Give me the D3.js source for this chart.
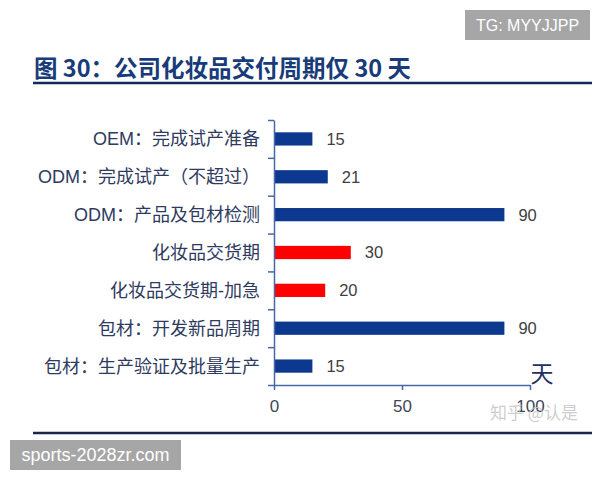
<!DOCTYPE html>
<html>
<head>
<meta charset="utf-8">
<script src="https://cdn.jsdelivr.net/npm/d3@7"></script>
<style>
  html, body { margin: 0; padding: 0; background: #ffffff; }
  svg { display: block; }
</style>
</head>
<body>
<svg id="chart" width="600" height="480"></svg>
<script>
// ---- data ----
const categories = [
  "OEM：完成试产准备",
  "ODM：完成试产（不超过）",
  "ODM：产品及包材检测",
  "化妆品交货期",
  "化妆品交货期-加急",
  "包材：开发新品周期",
  "包材：生产验证及批量生产"
];
const values = [15, 21, 90, 30, 20, 90, 15];
const highlight = [false, false, false, true, true, false, false];
const xTicks = [0, 50, 100];
const titleText = "图 30：公司化妆品交付周期仅 30 天";
const unitText = "天";

// ---- layout ----
const svg = d3.select("#chart");
const latin = "'Liberation Sans', Arial, 'Noto Sans CJK SC', sans-serif";
const plot = { left: 274, right: 530, top: 120, bottom: 385 };

const x = d3.scaleLinear().domain([0, 100]).range([plot.left, plot.right]);
const y = d3.scaleBand().domain(categories).range([plot.top, plot.bottom])
  .paddingInner(0.65).paddingOuter(0.325);
const yb = d3.scaleLinear().domain([0, categories.length]).range([plot.top, plot.bottom]);

// watermark box top-right
svg.append("rect").attr("x", 465).attr("y", 10).attr("width", 125).attr("height", 30).attr("fill", "#a6a6a6");
svg.append("text").attr("x", 527.5).attr("y", 25).attr("dy", "0.36em").attr("text-anchor", "middle")
  .attr("font-family", latin).attr("font-size", 16).attr("fill", "#ffffff").text("TG: MYYJJPP");

// title
svg.append("text").attr("x", 34).attr("y", 77)
  .attr("font-family", "'Noto Sans CJK SC', sans-serif").attr("font-weight", "bold")
  .attr("font-size", 23.5).attr("fill", "#183b7a").text(titleText);
svg.append("line").attr("x1", 33).attr("x2", 592).attr("y1", 83).attr("y2", 83)
  .attr("stroke", "#0f2b5e").attr("stroke-width", 2.5);

// bars
svg.append("g").selectAll("rect").data(categories).join("rect")
  .attr("x", x(0) + 1)
  .attr("y", d => y(d))
  .attr("width", (d, i) => x(values[i]) - x(0) - 1)
  .attr("height", y.bandwidth())
  .attr("fill", (d, i) => highlight[i] ? "#fe0000" : "#0c3890");

// value labels
svg.append("g").selectAll("text").data(categories).join("text")
  .attr("x", (d, i) => x(values[i]) + 14)
  .attr("y", d => y(d) + y.bandwidth() / 2)
  .attr("dy", "0.36em")
  .attr("font-family", latin).attr("font-size", 16.5).attr("fill", "#404040")
  .text((d, i) => values[i]);

// category labels
svg.append("g").selectAll("text").data(categories).join("text")
  .attr("x", 260)
  .attr("y", d => y(d) + y.bandwidth() / 2)
  .attr("dy", "0.36em")
  .attr("text-anchor", "end")
  .attr("font-family", latin).attr("font-size", 18).attr("fill", "#2e3a5e")
  .text(d => d);

// y axis (ticks at category boundaries)
const axisColor = "#4767a6";
const yAxis = svg.append("g").attr("transform", `translate(${plot.left},0)`)
  .call(d3.axisLeft(yb).tickValues(d3.range(categories.length + 1)).tickFormat("")
    .tickSizeInner(6).tickSizeOuter(0));
yAxis.selectAll("path, line").attr("stroke", axisColor).attr("stroke-width", 1.5);

// x axis
const xAxis = svg.append("g").attr("transform", `translate(0,${plot.bottom})`)
  .call(d3.axisBottom(x).tickValues(xTicks).tickSizeInner(5).tickSizeOuter(0).tickPadding(10));
xAxis.selectAll("path, line").attr("stroke", axisColor).attr("stroke-width", 1.5);
xAxis.selectAll("text").attr("font-family", latin).attr("font-size", 17).attr("fill", "#3f4656");

// unit label
svg.append("text").attr("x", 542).attr("y", 382).attr("text-anchor", "middle")
  .attr("font-family", "'Noto Sans CJK SC', sans-serif").attr("font-size", 23)
  .attr("fill", "#1f2f62").text(unitText);

// zhihu watermark
svg.append("text").attr("x", 490).attr("y", 413).attr("dy", "0.36em")
  .attr("font-family", "'Noto Sans CJK SC', sans-serif").attr("font-size", 17)
  .attr("fill", "#c8c8c8").attr("fill-opacity", 0.9).text("知乎 @认是");

// bottom rule
svg.append("line").attr("x1", 33).attr("x2", 592).attr("y1", 433).attr("y2", 433)
  .attr("stroke", "#17284c").attr("stroke-width", 2.5);

// bottom-left watermark box
svg.append("rect").attr("x", 10).attr("y", 440).attr("width", 171).attr("height", 30).attr("fill", "#a6a6a6");
svg.append("text").attr("x", 95.5).attr("y", 455).attr("dy", "0.36em").attr("text-anchor", "middle")
  .attr("font-family", latin).attr("font-size", 18).attr("fill", "#ffffff").text("sports-2028zr.com");
</script>
</body>
</html>
